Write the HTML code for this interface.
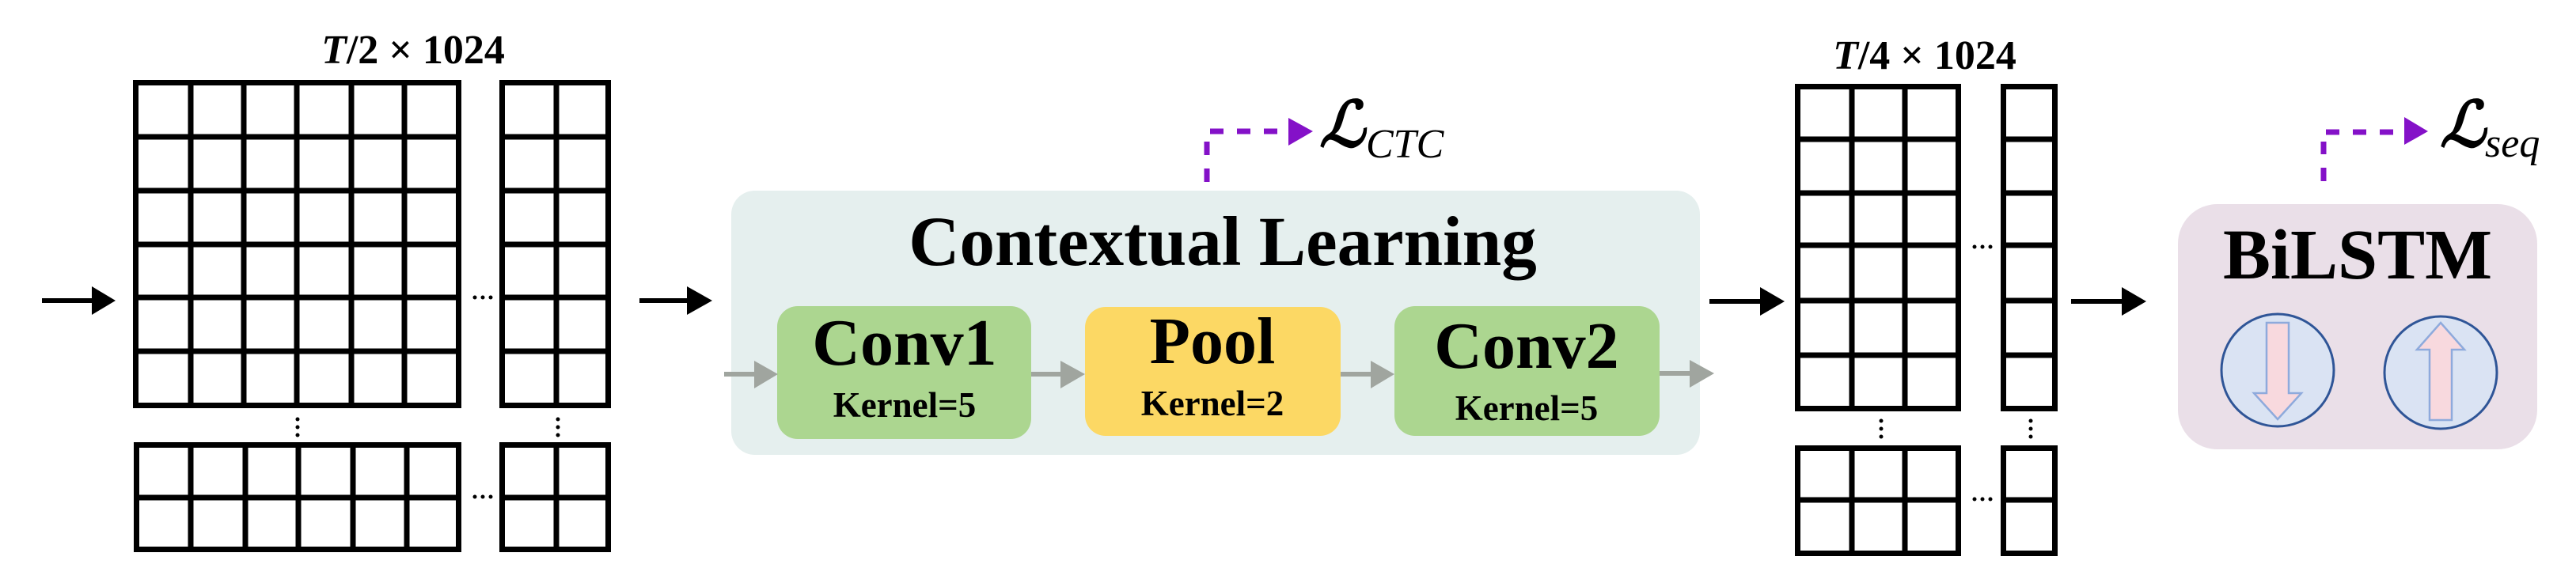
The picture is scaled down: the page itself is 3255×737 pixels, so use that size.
<!DOCTYPE html>
<html><head><meta charset="utf-8"><style>
html,body{margin:0;padding:0;background:#fff;}
svg{display:block;}
.ser{font-family:"Liberation Serif","DejaVu Serif",serif;font-weight:bold;}
.math{font-family:"Liberation Serif","DejaVu Serif",serif;}
</style></head><body>
<svg width="3255" height="737" viewBox="0 0 3255 737" xmlns="http://www.w3.org/2000/svg">
<g fill="none" stroke="#000" stroke-width="7">
<rect x="171.5" y="104.5" width="408" height="408"/>
<path d="M241 104V512M308 104V512M375 104V512M444 104V512M511 104V512"/>
<path d="M171 173H580M171 241H580M171 309H580M171 376H580M171 444H580"/>
<rect x="634.5" y="104.5" width="134" height="408"/>
<path d="M703 104V512"/>
<path d="M634 173H769M634 241H769M634 309H769M634 376H769M634 444H769"/>
<rect x="172.5" y="562.5" width="407" height="132"/>
<path d="M241 562V695M310 562V695M377 562V695M446 562V695M514 562V695M172 629H580"/>
<rect x="634.5" y="562.5" width="134" height="132"/>
<path d="M703 562V695M634 629H769"/>
<rect x="2271.5" y="109.5" width="203" height="407"/>
<path d="M2340 109V517M2407 109V517"/>
<path d="M2271 176H2475M2271 244H2475M2271 310H2475M2271 380H2475M2271 449H2475"/>
<rect x="2531.5" y="109.5" width="65" height="407"/>
<path d="M2531 176H2597M2531 244H2597M2531 310H2597M2531 380H2597M2531 449H2597"/>
<rect x="2271.5" y="566.5" width="203" height="133"/>
<path d="M2340 566V700M2407 566V700M2271 632H2475"/>
<rect x="2531.5" y="566.5" width="65" height="133"/>
<path d="M2531 632H2597"/>
</g>
<g fill="#000">
<circle cx="600" cy="376" r="2.5"/><circle cx="610" cy="376" r="2.5"/><circle cx="620" cy="376" r="2.5"/>
<circle cx="600" cy="628" r="2.5"/><circle cx="610" cy="628" r="2.5"/><circle cx="620" cy="628" r="2.5"/>
<circle cx="376" cy="530" r="2.5"/><circle cx="376" cy="540" r="2.5"/><circle cx="376" cy="550" r="2.5"/>
<circle cx="705" cy="530" r="2.5"/><circle cx="705" cy="540" r="2.5"/><circle cx="705" cy="550" r="2.5"/>
<circle cx="2495" cy="312" r="2.5"/><circle cx="2505" cy="312" r="2.5"/><circle cx="2515" cy="312" r="2.5"/>
<circle cx="2495" cy="631" r="2.5"/><circle cx="2505" cy="631" r="2.5"/><circle cx="2515" cy="631" r="2.5"/>
<circle cx="2377" cy="532" r="2.5"/><circle cx="2377" cy="542" r="2.5"/><circle cx="2377" cy="552" r="2.5"/>
<circle cx="2566" cy="532" r="2.5"/><circle cx="2566" cy="542" r="2.5"/><circle cx="2566" cy="552" r="2.5"/>
</g>
<text x="522" y="80" text-anchor="middle" class="ser" font-size="52"><tspan font-style="italic">T</tspan>/2 × 1024</text>
<text x="2432" y="87" text-anchor="middle" class="ser" font-size="52"><tspan font-style="italic">T</tspan>/4 × 1024</text>
<g fill="#000">
<rect x="53" y="377" width="66" height="6"/><polygon points="116,362 146,380 116,398"/>
<rect x="808" y="377" width="62" height="6"/><polygon points="868,362 900,380 868,398"/>
<rect x="2160" y="378" width="66" height="6"/><polygon points="2224,363 2255,381 2224,399"/>
<rect x="2617" y="378" width="66" height="6"/><polygon points="2681,363 2712,381 2681,399"/>
</g>
<rect x="924" y="241" width="1224" height="334" rx="30" fill="#e5efee"/>
<text x="1545" y="335" text-anchor="middle" class="ser" font-size="89">Contextual Learning</text>
<rect x="982" y="387" width="321" height="168" rx="26" fill="#acd690"/>
<rect x="1371" y="388" width="323" height="163" rx="26" fill="#fcd864"/>
<rect x="1762" y="387" width="335" height="164" rx="26" fill="#acd690"/>
<text x="1143" y="461" text-anchor="middle" class="ser" font-size="84">Conv1</text>
<text x="1143" y="527" text-anchor="middle" class="ser" font-size="45">Kernel=5</text>
<text x="1532" y="459" text-anchor="middle" class="ser" font-size="84">Pool</text>
<text x="1532" y="525" text-anchor="middle" class="ser" font-size="45">Kernel=2</text>
<text x="1929" y="465" text-anchor="middle" class="ser" font-size="84">Conv2</text>
<text x="1929" y="531" text-anchor="middle" class="ser" font-size="45">Kernel=5</text>
<g fill="#a0a59f">
<rect x="915" y="470" width="40" height="6"/><polygon points="953,456 983,473 953,491"/>
<rect x="1303" y="470" width="38" height="6"/><polygon points="1340,456 1371,473 1340,491"/>
<rect x="1694" y="470" width="40" height="6"/><polygon points="1732,456 1762,473 1732,491"/>
<rect x="2097" y="469" width="40" height="6"/><polygon points="2135,455 2166,472 2135,490"/>
</g>
<g stroke="#8411c8" stroke-width="7" fill="none">
<path d="M1525 230V179" stroke-dasharray="17,17"/>
<path d="M1529 166H1630" stroke-dasharray="17,17"/>
<path d="M2936 229V179" stroke-dasharray="17,17"/>
<path d="M2939 167H3038" stroke-dasharray="17,17"/>
</g>
<g fill="#8411c8">
<polygon points="1628,149 1659,166 1628,184"/>
<polygon points="3038,148 3068,166 3038,183"/>
</g>
<text x="1667" y="185" class="math" font-size="80" font-style="italic" font-weight="bold">ℒ</text>
<text x="1726" y="199" class="math" font-size="52" font-style="italic">CTC</text>
<text x="3083" y="185" class="math" font-size="80" font-style="italic" font-weight="bold">ℒ</text>
<text x="3140" y="198" class="math" font-size="52" font-style="italic">seq</text>
<rect x="2752" y="258" width="454" height="310" rx="50" fill="#eadfe8"/>
<text x="2979" y="352" text-anchor="middle" class="ser" font-size="90">BiLSTM</text>
<circle cx="2878" cy="468" r="71" fill="#dae3f3" stroke="#2f5597" stroke-width="3"/>
<circle cx="3084" cy="471" r="71" fill="#dae3f3" stroke="#2f5597" stroke-width="3"/>
<polygon points="2864,408 2892,408 2892,497 2908,497 2878,530 2848,497 2864,497" fill="#f8d9de" stroke="#8eaadc" stroke-width="2.5"/>
<polygon points="3084,408 3114,442 3098,442 3098,531 3070,531 3070,442 3054,442" fill="#f8d9de" stroke="#8eaadc" stroke-width="2.5"/>
</svg>
</body></html>
